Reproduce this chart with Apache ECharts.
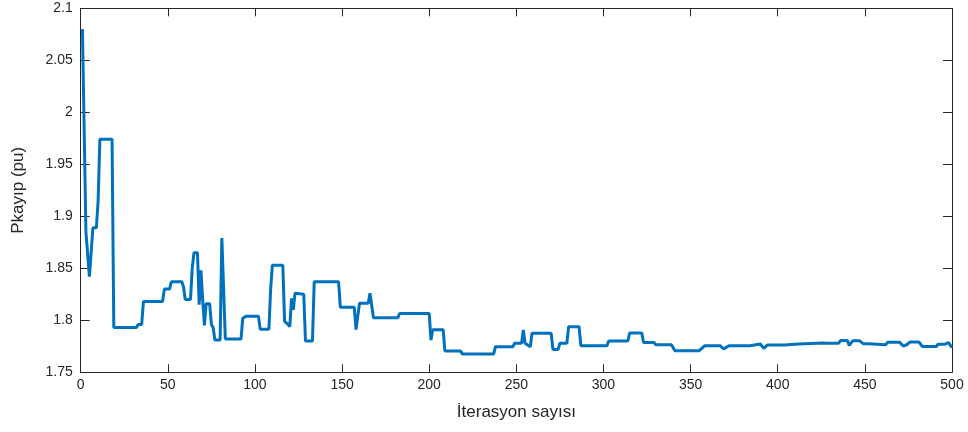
<!DOCTYPE html>
<html>
<head>
<meta charset="utf-8">
<script src="https://cdn.jsdelivr.net/npm/echarts@6/dist/echarts.min.js"></script>
<style>
  html, body { margin: 0; padding: 0; background: #ffffff; }
  #chart { width: 968px; height: 432px; }
</style>
</head>
<body>
<div id="chart"></div>
<script>
// Iteration numbers at which the loss value changes, and the loss at each of them
const iterations = [
  1, 2, 3, 4, 5, 6, 7, 9, 10, 11, 18, 19, 32, 33, 35, 36, 47, 48, 51, 52,
  58, 59, 60, 63, 64, 65, 67, 68, 69, 70, 71, 72, 74, 75, 76, 77, 80, 81, 82, 83,
  92, 93, 95, 102, 103, 108, 109, 110, 116, 117, 119, 120, 121, 122, 123, 128, 129, 133, 134, 148,
  149, 157, 158, 159, 160, 165, 166, 168, 182, 183, 200, 201, 202, 208, 209, 218, 219, 237, 238, 248, 249,
  253, 254, 255, 256, 258, 259, 260, 270, 271, 274, 275, 279, 280, 286, 287, 302, 303, 314, 315, 322,
  323, 329, 330, 339, 341, 355, 358, 367, 369, 372, 384, 385, 390, 392, 394, 404, 405, 412, 413, 426,
  427, 428, 435, 436, 440, 441, 443, 447, 449, 452, 453, 462, 463, 470, 472, 474, 476, 481, 483, 491,
  492, 496, 498, 500
];
const lossValues = [
  2.080, 2.080, 1.885, 1.885, 1.842, 1.842, 1.889, 1.889, 1.915, 1.974, 1.974, 1.793, 1.793, 1.796, 1.796, 1.818, 1.818, 1.830, 1.830, 1.837,
  1.837, 1.832, 1.820, 1.820, 1.850, 1.865, 1.865, 1.815, 1.848, 1.820, 1.795, 1.816, 1.816, 1.796, 1.793, 1.781, 1.781, 1.879, 1.879, 1.782,
  1.782, 1.802, 1.804, 1.804, 1.7915, 1.7915, 1.830, 1.853, 1.853, 1.799, 1.796, 1.794, 1.821, 1.810, 1.826, 1.825, 1.780, 1.780, 1.837, 1.837,
  1.8125, 1.8125, 1.791, 1.790, 1.8165, 1.8165, 1.826, 1.8025, 1.8025, 1.8065, 1.8065, 1.781, 1.791, 1.791, 1.7705, 1.7705, 1.7677, 1.7677, 1.7746, 1.7746, 1.7779,
  1.7779, 1.7907, 1.778, 1.778, 1.7746, 1.7875, 1.7875, 1.7875, 1.772, 1.772, 1.7779, 1.7779, 1.7939, 1.7939, 1.7756, 1.7756, 1.7801, 1.7801, 1.7878, 1.7878,
  1.7786, 1.7786, 1.7765, 1.7765, 1.7708, 1.7708, 1.7755, 1.7755, 1.7725, 1.7756, 1.7756, 1.7772, 1.7772, 1.773, 1.7762, 1.7762, 1.7772, 1.7772, 1.7782, 1.7782,
  1.777, 1.778, 1.778, 1.7805, 1.7805, 1.7758, 1.7803, 1.7803, 1.7775, 1.7775, 1.7765, 1.7765, 1.7788, 1.7788, 1.7753, 1.7765, 1.7792, 1.7792, 1.7748, 1.7748,
  1.777, 1.777, 1.7785, 1.7737
];
const xTicks = { min: 0, max: 500, step: 50 };
const yTicks = { min: 1.75, max: 2.1, step: 0.05 };

const lineData = iterations.map((it, i) => [it, lossValues[i]]);

const axisColor = '#262626';
const fontFamily = '"Liberation Sans", Arial, Helvetica, sans-serif';

const fmtY = v => String(parseFloat(v.toFixed(2)));

function xAxisCfg(pos, labels) {
  return {
    type: 'value', position: pos,
    min: xTicks.min, max: xTicks.max, interval: xTicks.step,
    axisLine: { show: true, onZero: false, lineStyle: { color: axisColor, width: 1 } },
    axisTick: { show: true, inside: true, length: 8, lineStyle: { color: axisColor } },
    axisLabel: { show: labels, color: axisColor, fontSize: 14, fontFamily, margin: 6 },
    splitLine: { show: false }
  };
}
function yAxisCfg(pos, labels) {
  return {
    type: 'value', position: pos,
    min: yTicks.min, max: yTicks.max, interval: yTicks.step,
    axisLine: { show: true, onZero: false, lineStyle: { color: axisColor, width: 1 } },
    axisTick: { show: true, inside: true, length: 9, lineStyle: { color: axisColor } },
    axisLabel: { show: labels, color: axisColor, fontSize: 14, fontFamily, margin: 8, formatter: fmtY },
    splitLine: { show: false }
  };
}

const chart = echarts.init(document.getElementById('chart'), null, { renderer: 'canvas' });

const bottomX = xAxisCfg('bottom', true);
bottomX.name = 'İterasyon sayısı';
bottomX.nameLocation = 'middle';
bottomX.nameGap = 32;
bottomX.nameTextStyle = { color: axisColor, fontSize: 17, fontFamily };

const leftY = yAxisCfg('left', true);
leftY.name = 'Pkayıp (pu)';
leftY.nameLocation = 'middle';
leftY.nameGap = 54;
leftY.nameTextStyle = { color: axisColor, fontSize: 17, fontFamily };

chart.setOption({
  animation: false,
  backgroundColor: '#ffffff',
  grid: { left: 80.7, right: 16, top: 8.3, bottom: 59.7, containLabel: false },
  xAxis: [bottomX, xAxisCfg('top', false)],
  yAxis: [leftY, yAxisCfg('right', false)],
  series: [{
    type: 'line',
    xAxisIndex: 0, yAxisIndex: 0,
    data: lineData,
    showSymbol: false,
    symbol: 'none',
    lineStyle: { color: '#0072BD', width: 3, join: 'bevel' },
    clip: true
  }]
});
</script>
</body>
</html>
